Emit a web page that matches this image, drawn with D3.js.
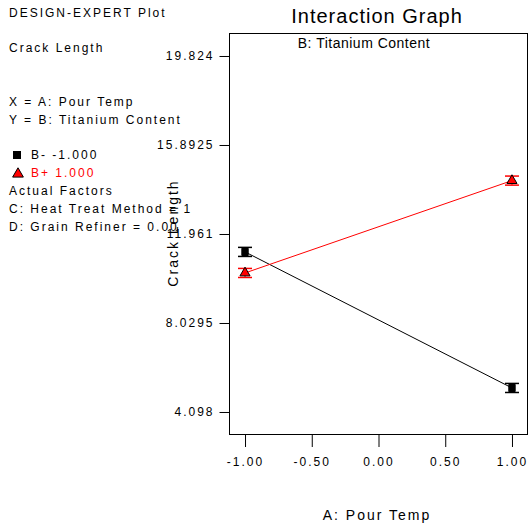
<!DOCTYPE html>
<html>
<head>
<meta charset="utf-8">
<script src="https://cdn.jsdelivr.net/npm/d3@7"></script>
<style>
  body { margin: 0; background: #fff; }
  text { font-family: "Liberation Sans", Arial, sans-serif; }
</style>
</head>
<body>
<div id="chart"></div>
<script>
// data
var pourTemp = [-1, 1];
var bMinus = [11.17, 5.16];
var bPlus = [10.24, 14.32];
var errHalf = [0.2, 0.2];
var yTicks = [4.098, 8.0295, 11.961, 15.8925, 19.824];
var xTicks = [-1.0, -0.5, 0.0, 0.5, 1.0];
var legendLines = [
    {y: 13, text: "DESIGN-EXPERT Plot"},
    {y: 48, text: "Crack Length"},
    {y: 102, text: "X = A: Pour Temp"},
    {y: 120, text: "Y = B: Titanium Content"},
    {y: 191, text: "Actual Factors"},
    {y: 209, text: "C: Heat Treat Method = 1"},
    {y: 227, text: "D: Grain Refiner = 0.00"}
];

var W = 529, H = 527;
var margin = {top: 33, right: 1, bottom: 93, left: 229};

var svg = d3.select("#chart").append("svg")
    .attr("width", W).attr("height", H);

var x = d3.scaleLinear().domain([-1.12, 1.12]).range([margin.left, W - margin.right]);
var y = d3.scaleLinear().domain([3.126, 20.84]).range([H - margin.bottom, margin.top]);

// titles
svg.append("text").attr("x", 377).attr("y", 23)
    .attr("text-anchor", "middle").style("font-size", "20px")
    .style("letter-spacing", "1px")
    .text("Interaction Graph");

// plot frame
svg.append("rect")
    .attr("x", margin.left + 0.5).attr("y", margin.top + 0.5)
    .attr("width", W - margin.left - margin.right - 1)
    .attr("height", H - margin.top - margin.bottom)
    .attr("fill", "none").attr("stroke", "#000");

svg.append("text").attr("x", 364).attr("y", 48)
    .attr("text-anchor", "middle").style("font-size", "14px")
    .style("letter-spacing", "0.5px")
    .text("B: Titanium Content");

// y axis
var yAxis = svg.append("g")
    .attr("transform", "translate(" + (margin.left + 0.5) + ",0)")
    .call(d3.axisLeft(y).tickValues(yTicks).tickSize(10).tickPadding(5)
        .tickFormat(function (d) { return String(d); }));
yAxis.select(".domain").remove();
yAxis.selectAll("text").style("font-size", "12px").style("letter-spacing", "2px")
    .style("font-family", "Liberation Sans, Arial, sans-serif");

// x axis (detached below the frame)
var xAxis = svg.append("g")
    .attr("transform", "translate(0," + (H - margin.bottom + 1) + ")")
    .call(d3.axisBottom(x).tickValues(xTicks).tickSize(12).tickPadding(10)
        .tickFormat(function (d) { return d3.format(".2f")(d).replace("\u2212", "-"); }));
xAxis.select(".domain").remove();
xAxis.selectAll("text").style("font-size", "12px").style("letter-spacing", "2px")
    .style("font-family", "Liberation Sans, Arial, sans-serif");

svg.append("text").attr("x", 377).attr("y", 520)
    .attr("text-anchor", "middle").style("font-size", "14px")
    .style("letter-spacing", "2px")
    .text("A: Pour Temp");

svg.append("text")
    .attr("transform", "translate(178,233) rotate(-90)")
    .attr("text-anchor", "middle").style("font-size", "14px")
    .style("letter-spacing", "2px")
    .text("Crack Length");

// series
var series = [
    {name: "B-", values: bMinus, color: "#000", shape: "square"},
    {name: "B+", values: bPlus, color: "#ff0000", shape: "triangle"}
];

series.forEach(function (s) {
    var pts = pourTemp.map(function (t, i) { return {t: t, v: s.values[i], e: errHalf[i]}; });

    svg.append("path")
        .datum(pts)
        .attr("fill", "none").attr("stroke", s.color).attr("stroke-width", 1)
        .attr("d", d3.line().x(function (d) { return x(d.t); }).y(function (d) { return y(d.v); }));

    var g = svg.append("g").selectAll("g").data(pts).enter().append("g");
    // error bars
    g.append("line")
        .attr("x1", function (d) { return x(d.t); }).attr("x2", function (d) { return x(d.t); })
        .attr("y1", function (d) { return y(d.v + d.e); }).attr("y2", function (d) { return y(d.v - d.e); })
        .attr("stroke", s.color).attr("stroke-width", s.shape === "square" ? 6 : 1);
    [1, -1].forEach(function (sg) {
        g.append("line")
            .attr("x1", function (d) { return x(d.t) - 7; }).attr("x2", function (d) { return x(d.t) + 7; })
            .attr("y1", function (d) { return y(d.v + sg * d.e); }).attr("y2", function (d) { return y(d.v + sg * d.e); })
            .attr("stroke", s.color).attr("stroke-width", 1.5);
    });
    g.append("path")
        .attr("transform", function (d) { return "translate(" + x(d.t) + "," + y(d.v) + ")"; })
        .attr("d", d3.symbol().type(s.shape === "square" ? d3.symbolSquare : d3.symbolTriangle).size(s.shape === "square" ? 56 : 44))
        .attr("fill", s.color)
        .attr("stroke", "#000").attr("stroke-width", s.shape === "square" ? 0 : 1);
});

// left-hand notes
svg.append("g").selectAll("text").data(legendLines).enter().append("text")
    .attr("x", 9).attr("y", function (d) { return d.y + 4; })
    .style("font-size", "12px").style("letter-spacing", "2px")
    .text(function (d) { return d.text; });

// legend
svg.append("path").attr("transform", "translate(17,155)")
    .attr("d", d3.symbol().type(d3.symbolSquare).size(64)).attr("fill", "#000");
svg.append("text").attr("x", 31).attr("y", 159)
    .style("font-size", "12px").style("letter-spacing", "2px").text("B- -1.000");
svg.append("path").attr("transform", "translate(18,174)")
    .attr("d", d3.symbol().type(d3.symbolTriangle).size(50)).attr("fill", "#ff0000")
    .attr("stroke", "#000").attr("stroke-width", 1);
svg.append("text").attr("x", 31).attr("y", 177).attr("fill", "#ff0000")
    .style("font-size", "12px").style("letter-spacing", "2px").text("B+ 1.000");
</script>
</body>
</html>
